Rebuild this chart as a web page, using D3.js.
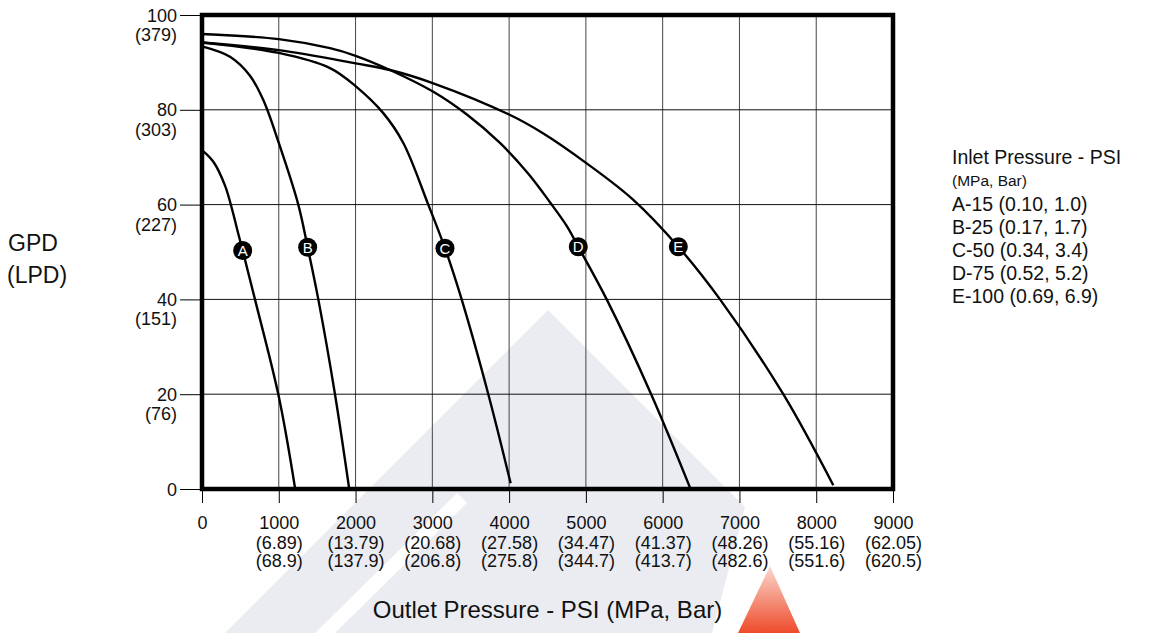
<!DOCTYPE html>
<html>
<head>
<meta charset="utf-8">
<script src="https://cdn.jsdelivr.net/npm/d3@7"></script>
<style>
  body { margin: 0; background: #fff; }
  svg { display: block; font-family: 'Liberation Sans', Arial, Helvetica, sans-serif; }
</style>
</head>
<body>
<div id="chart"></div>
<script>
// x axis: outlet pressure (psi) with MPa / bar equivalents
const psiTicks = [0, 1000, 2000, 3000, 4000, 5000, 6000, 7000, 8000, 9000]
const mpaLabels = ['', '(6.89)', '(13.79)', '(20.68)', '(27.58)', '(34.47)', '(41.37)', '(48.26)', '(55.16)', '(62.05)']
const barLabels = ['', '(68.9)', '(137.9)', '(206.8)', '(275.8)', '(344.7)', '(413.7)', '(482.6)', '(551.6)', '(620.5)']

// y axis: GPD with LPD equivalents
const gpdTicks = [0, 20, 40, 60, 80, 100]
const lpdLabels = ['', '(76)', '(151)', '(227)', '(303)', '(379)']

// curves, [psi, gpd]
const curveA = [[0, 71.5], [150, 69], [300, 64], [400, 58.5], [470, 54], [530, 50.3], [690, 40], [1000, 19.5], [1210, 0.4]]
const curveB = [[0, 93.4], [365, 91.2], [625, 87.2], [800, 82], [1000, 73], [1254, 60], [1376, 51], [1515, 40], [1732, 20], [1915, 0.3]]
const curveC = [[0, 94.2], [1000, 92], [1667, 88.8], [2000, 85], [2361, 79.3], [2622, 73], [2947, 60], [3165, 50.8], [3382, 40], [3729, 20], [4020, 1.2]]
const curveD = [[0, 96], [1000, 94.9], [1667, 93], [2000, 91.4], [2449, 88.4], [3013, 83.8], [3450, 79], [3881, 73], [4250, 66.5], [4532, 60.5], [4750, 55.5], [4901, 51.1], [5271, 40], [5850, 20], [6356, 0.3]]
const curveE = [[0, 94.2], [1000, 92.6], [2000, 89.8], [2449, 88.4], [3013, 85.6], [4000, 79], [4446, 75], [5010, 68.7], [5618, 61], [6204, 51.1], [6747, 40], [7571, 20], [8222, 0.8]]

const seriesNames = ['A', 'B', 'C', 'D', 'E']
const markerPsi = [530, 1376, 3165, 4901, 6204]
const markerGpd = [50.3, 51, 50.8, 51.1, 51.1]

const legendLines = ['A-15 (0.10, 1.0)', 'B-25 (0.17, 1.7)', 'C-50 (0.34, 3.4)', 'D-75 (0.52, 5.2)', 'E-100 (0.69, 6.9)']

let width = 1160
let height = 633
let plotLeft = 202
let plotRight = 893
let plotTop = 15
let plotBottom = 489

let svg = d3
  .select('#chart')
  .append('svg')
  .attr('width', width)
  .attr('height', height)

let x = d3.scaleLinear().domain([0, 9000]).range([plotLeft, plotRight])
let y = d3.scaleLinear().domain([0, 100]).range([plotBottom, plotTop])

// faint logo watermark behind the chart
let defs = svg.append('defs')
let grad = defs
  .append('linearGradient')
  .attr('id', 'redFade')
  .attr('x1', 0).attr('y1', 1).attr('x2', 0).attr('y2', 0)
grad.append('stop').attr('offset', '0%').attr('stop-color', '#ee4b2b')
grad.append('stop').attr('offset', '100%').attr('stop-color', '#fbd8cf')

let mark = svg.append('g').attr('class', 'watermark')
mark
  .append('path')
  .attr('d', 'M548,310 L745,507 L712,633 L225,633 Z')
  .attr('fill', '#eaecf1')
mark
  .append('line')
  .attr('x1', 318).attr('y1', 640)
  .attr('x2', 462).attr('y2', 498)
  .attr('stroke', '#fff')
  .attr('stroke-width', 14)
mark
  .append('path')
  .attr('d', 'M770,566 L800,633 L738,633 Z')
  .attr('fill', 'url(#redFade)')

// grid
let grid = svg.append('g').attr('class', 'grid')
grid
  .selectAll('line.v')
  .data(psiTicks.slice(1, -1))
  .enter()
  .append('line')
  .attr('class', 'v')
  .attr('x1', d => x(d))
  .attr('x2', d => x(d))
  .attr('y1', plotTop)
  .attr('y2', plotBottom)
  .attr('stroke', '#444')
  .attr('stroke-width', 1)
grid
  .selectAll('line.h')
  .data(gpdTicks.slice(1, -1))
  .enter()
  .append('line')
  .attr('class', 'h')
  .attr('x1', plotLeft)
  .attr('x2', plotRight)
  .attr('y1', d => y(d))
  .attr('y2', d => y(d))
  .attr('stroke', '#111')
  .attr('stroke-width', 1)

// y axis
let yAxis = svg
  .append('g')
  .attr('transform', 'translate(' + plotLeft + ',0)')
  .call(d3.axisLeft(y).tickValues(gpdTicks).tickSize(22).tickSizeOuter(0).tickPadding(3))
yAxis.select('.domain').remove()
yAxis.selectAll('.tick line').attr('stroke', '#000').attr('stroke-width', 1)
yAxis.selectAll('.tick text').each(function (d, i) {
  let t = d3.select(this)
  t.text(null)
    .attr('font-size', 18)
    .attr('font-family', null)
    .attr('fill', '#111')
  t.append('tspan').attr('x', -25).attr('dy', '0.34em').text(d)
  t.append('tspan').attr('x', -25).attr('dy', '1.08em').text(lpdLabels[i])
})

// x axis
let xAxis = svg
  .append('g')
  .attr('transform', 'translate(0,' + plotBottom + ')')
  .call(d3.axisBottom(x).tickValues(psiTicks).tickSize(14).tickSizeOuter(0).tickPadding(13))
xAxis.select('.domain').remove()
xAxis.selectAll('.tick line').attr('stroke', '#000').attr('stroke-width', 1)
xAxis.selectAll('.tick text').each(function (d, i) {
  let t = d3.select(this)
  t.text(null)
    .attr('font-size', 18)
    .attr('font-family', null)
    .attr('fill', '#111')
  t.append('tspan').attr('x', 0).attr('dy', '0.71em').text(d)
  t.append('tspan').attr('x', 0).attr('dy', '1.1em').text(mpaLabels[i])
  t.append('tspan').attr('x', 0).attr('dy', '1.05em').text(barLabels[i])
})

// performance curves
let line = d3
  .line()
  .x(d => x(d[0]))
  .y(d => y(d[1]))
  .curve(d3.curveCatmullRom.alpha(0.5))

svg
  .append('g')
  .attr('class', 'curves')
  .selectAll('path')
  .data([curveA, curveB, curveC, curveD, curveE])
  .enter()
  .append('path')
  .attr('d', line)
  .attr('fill', 'none')
  .attr('stroke', '#000')
  .attr('stroke-width', 2.4)

// frame
svg
  .append('rect')
  .attr('x', plotLeft)
  .attr('y', plotTop)
  .attr('width', plotRight - plotLeft)
  .attr('height', plotBottom - plotTop)
  .attr('fill', 'none')
  .attr('stroke', '#000')
  .attr('stroke-width', 4.5)

// letter markers
let markers = svg
  .append('g')
  .attr('class', 'markers')
  .selectAll('g')
  .data(seriesNames)
  .enter()
  .append('g')
  .attr('transform', (d, i) => 'translate(' + x(markerPsi[i]) + ',' + y(markerGpd[i]) + ')')
markers.append('circle').attr('r', 9.5).attr('fill', '#000')
markers
  .append('text')
  .attr('text-anchor', 'middle')
  .attr('dy', '0.36em')
  .attr('font-size', 15)
  .attr('fill', '#fff')
  .text(d => d)

// axis titles
svg
  .append('text')
  .attr('x', 8)
  .attr('y', 251)
  .attr('font-size', 23)
  .attr('fill', '#111')
  .text('GPD')
svg
  .append('text')
  .attr('x', 7)
  .attr('y', 283)
  .attr('font-size', 23)
  .attr('fill', '#111')
  .text('(LPD)')
svg
  .append('text')
  .attr('x', (plotLeft + plotRight) / 2)
  .attr('y', 618)
  .attr('text-anchor', 'middle')
  .attr('font-size', 24)
  .attr('fill', '#111')
  .text('Outlet Pressure - PSI (MPa, Bar)')

// legend
let legend = svg.append('g').attr('transform', 'translate(952,0)')
legend
  .append('text')
  .attr('y', 164)
  .attr('font-size', 19.5)
  .attr('fill', '#111')
  .text('Inlet Pressure - PSI')
legend
  .append('text')
  .attr('y', 186)
  .attr('font-size', 15.5)
  .attr('fill', '#111')
  .text('(MPa, Bar)')
legend
  .selectAll('text.item')
  .data(legendLines)
  .enter()
  .append('text')
  .attr('class', 'item')
  .attr('y', (d, i) => 211 + i * 23)
  .attr('font-size', 19.5)
  .attr('fill', '#111')
  .text(d => d)
</script>
</body>
</html>
